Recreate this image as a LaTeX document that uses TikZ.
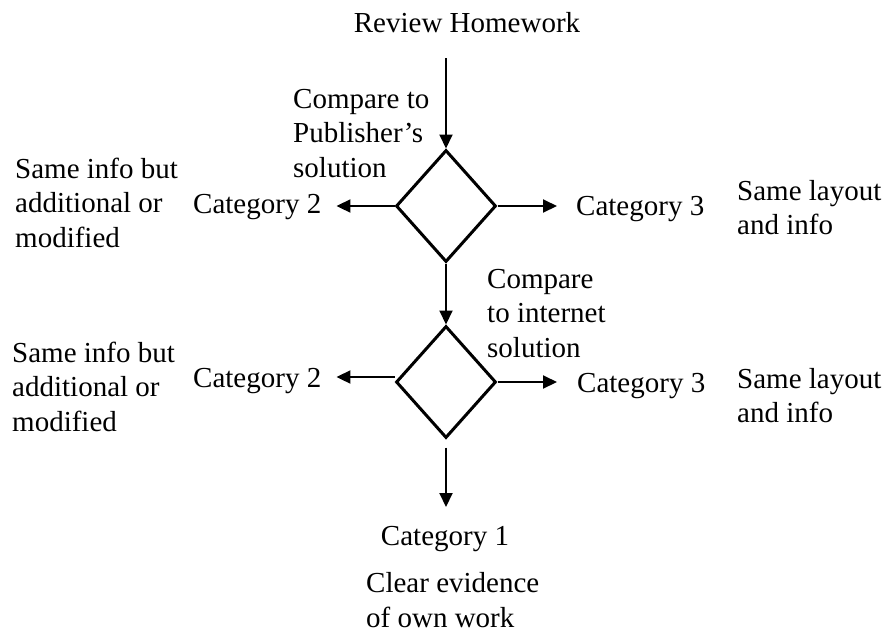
\documentclass[tikz,border=0pt]{standalone}
\usepackage{fontspec}
\setmainfont{Liberation Serif}
\usetikzlibrary{arrows.meta,shapes.geometric}
\tikzset{fc/.style={x=1pt,y=-1pt,font=\fontsize{29}{34.5}\selectfont},
  txt/.style={inner sep=0pt,anchor=base west,align=left},
  dmd/.style={diamond,draw,line width=3pt,minimum width=100pt,minimum height=112pt,inner sep=0pt},
  arr/.style={line width=2pt,-{Triangle[length=14pt,width=13pt]}}}

\begin{document}
\begin{tikzpicture}[fc]
  \useasboundingbox (0,0) rectangle (884,633);
  \node[txt,anchor=base] (rev) at (467,32) {Review Homework};
  \coordinate (top) at (446,58);
  \node[dmd] (d1) at (446,206) {};
  \node[dmd] (d2) at (446,382) {};
  \coordinate (bot) at (446,507);
  % first check (multi-line texts sit on their last baseline)
  \node[txt] (cmp1) at (293,177) {Compare to\\Publisher's\\solution};
  \node[txt] (c2a) at (193,213) {Category 2};
  \node[txt] (c3a) at (576,215) {Category 3};
  \node[txt] (sia) at (15,247) {Same info but\\additional or\\modified};
  \node[txt] (sla) at (737,234.5) {Same layout\\and info};
  % second check
  \node[txt] (cmp2) at (487,357) {Compare\\to internet\\solution};
  \node[txt] (c2b) at (193,387) {Category 2};
  \node[txt] (c3b) at (577,392) {Category 3};
  \node[txt] (sib) at (12,431) {Same info but\\additional or\\modified};
  \node[txt] (slb) at (737,422.5) {Same layout\\and info};
  \node[txt,anchor=base] (c1) at (445,545) {Category 1};
  \node[txt] (own) at (366,627) {Clear evidence\\of own work};
  \draw[arr] (top) -- (d1.north);
  \draw[arr,shorten >=15pt] (d1.west) -- (d1.west -| c2a.east);
  \draw[arr,shorten >=19pt] (d1.east) -- (d1.east -| c3a.west);
  \draw[arr] (d1.south) -- (d2.north);
  \draw[arr,shorten >=15pt] ([yshift=5pt]d2.west) -- ([yshift=5pt]d2.west -| c2b.east);
  \draw[arr,shorten >=20pt] (d2.east) -- (d2.east -| c3b.west);
  \draw[arr] ([yshift=-8pt]d2.south) -- (bot);
\end{tikzpicture}
\end{document}
